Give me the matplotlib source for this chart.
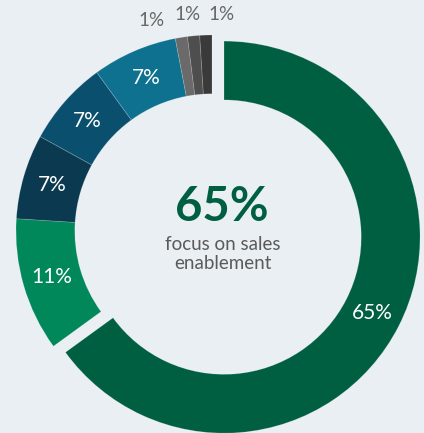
import matplotlib
matplotlib.use("Agg")
import matplotlib.pyplot as plt
import numpy as np

# Share of focus areas (clockwise from the top)
labels = ["65%", "11%", "7%", "7%", "7%", "1%", "1%", "1%"]
values = [65, 11, 7, 7, 7, 1, 1, 1]
colors = ["#005f40", "#00875a", "#0b3a50", "#0a4f6d", "#0e7190",
          "#6a6a6a", "#4e4e4e", "#3a3a3a"]
explode_px = [13.5, 0, 0, 0, 0, 0, 0, 0]

headline = "65%"
subtitle = "focus on sales\nenablement"

W, H = 424, 433
bg = "#e9eff3"
plt.rcParams["font.family"] = ["Lato", "DejaVu Sans"]

fig = plt.figure(figsize=(W / 100, H / 100), dpi=100, facecolor=bg)
ax = fig.add_axes([0, 0, 1, 1])
ax.set_facecolor(bg)

cx, cy, R = 212, H - 231, 196
width = 0.30

wedges, _ = ax.pie(values, colors=colors, explode=explode_px, startangle=90,
                   counterclock=False, center=(cx, cy), radius=R,
                   wedgeprops=dict(width=R * width, linewidth=0.6,
                                   edgecolor=(1, 1, 1, 0.18)),
                   frame=True)
ax.set_xlim(0, W)
ax.set_ylim(0, H)
ax.set_aspect("equal")
ax.axis("off")

# White labels inside the larger slices
mid_r = R * (1 - width / 2)
for w, lab, v in zip(wedges, labels, values):
    if v < 5:
        continue
    ang = np.deg2rad((w.theta1 + w.theta2) / 2)
    wx, wy = w.center
    ax.text(wx + mid_r * np.cos(ang), wy + mid_r * np.sin(ang), lab,
            color="white", fontsize=15, ha="center", va="center")

# Small-slice labels set above the ring
small_pos = [(152, H - 21), (187, H - 15), (221, H - 14)]
small_labels = [lab for lab, v in zip(labels, values) if v < 5]
for (tx, ty), lab in zip(small_pos, small_labels):
    ax.text(tx, ty, lab, color="#666666", fontsize=13.5, ha="center",
            va="center")

ax.text(222, H - 207, headline, color="#005f40", fontsize=34,
        fontweight="bold", ha="center", va="center")
ax.text(223, H - 254, subtitle, color="#5a5a5a", fontsize=13.5,
        ha="center", va="center", linespacing=1.1)

fig.savefig("out.png", dpi=100, facecolor=bg)
